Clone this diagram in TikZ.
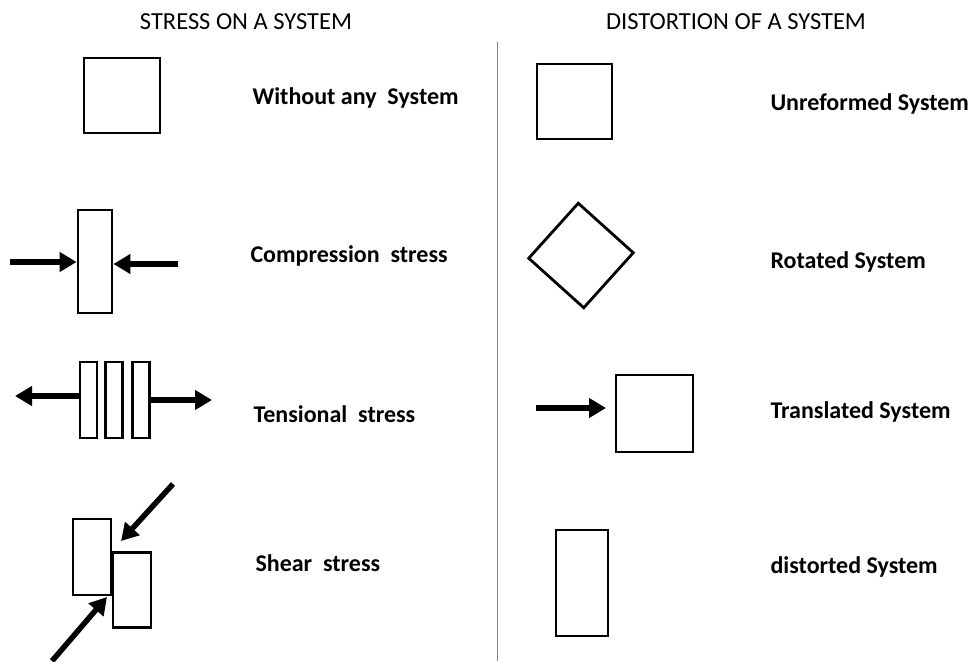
\documentclass[tikz,border=0pt]{standalone}
\usepackage{fontspec}
\setmainfont{Carlito}
\usetikzlibrary{arrows.meta}

\tikzset{
  plate/.style={draw, line width=2.8pt, inner sep=0pt, minimum width=#1},
  push/.style={line width=5.5pt, -{Triangle[length=17pt,width=19pt]}},
  heading/.style={font=\fontsize{24.5}{28}\selectfont},
  caption/.style={anchor=west, font=\fontsize{24}{28}\selectfont\bfseries}
}

\begin{document}
\begin{tikzpicture}[x=1pt,y=-1pt]
  \useasboundingbox (0,0) rectangle (974,661);

  % headings and the divider
  \node[heading] (hstress) at (246,22) {STRESS ON A SYSTEM};
  \node[heading] (hdist) at (736,22) {DISTORTION OF A SYSTEM};
  \draw[gray, line width=1pt] (497,42) -- (497,661);

  % stress on a system
  \node[plate=76pt, minimum height=75pt] (free) at (122,95.5) {};
  \node[caption] (lfree) at (249,98) {Without any~ System};

  \node[plate=34pt, minimum height=103pt] (comp) at (95,261.5) {};
  \coordinate (cl) at (10,262);
  \coordinate (cr) at (178,264);
  \draw[push] (cl) -- (comp.west |- cl);
  \draw[push] (cr) -- (comp.east |- cr);
  \node[caption] (lcomp) at (247,256) {Compression~ stress};

  \node[plate=17pt, minimum height=76pt] (ta) at (88.5,400) {};
  \node[plate=17pt, minimum height=76pt] (tb) at (114,400) {};
  \node[plate=17pt, minimum height=76pt] (tc) at (141,400) {};
  \coordinate (tl) at (15,396);
  \coordinate (tr) at (212,400);
  \draw[push] (ta.west |- tl) -- (tl);
  \draw[push] (tc.east |- tr) -- (tr);
  \node[caption] (lten) at (250,414) {Tensional~ stress};

  \node[plate=38pt, minimum height=76pt] (sa) at (92,557) {};
  \node[plate=38pt, minimum height=75pt] (sb) at (132,590) {};
  \coordinate (st) at (173,484);
  \coordinate (sttip) at (121,541);
  \coordinate (sl) at (52,661);
  \coordinate (sltip) at (107,597);
  \draw[push] (st) -- (sttip);
  \draw[push] (sl) -- (sltip);
  \node[caption] (lshear) at (252,563) {Shear~ stress};

  % distortion of a system
  \node[plate=75pt, minimum height=75pt] (unref) at (574.5,101.5) {};
  \node[caption] (lunref) at (767,104) {Unreformed System};

  \node[plate=74pt, minimum height=74pt, rotate=-42] (rot) at (581,255.5) {};
  \node[caption] (lrot) at (767,262) {Rotated System};

  \node[plate=77pt, minimum height=77pt] (trans) at (654.5,413.5) {};
  \coordinate (ts) at (536,408);
  \coordinate (ttip) at (606,408);
  \draw[push] (ts) -- (ttip);
  \node[caption] (ltrans) at (767,412) {Translated System};

  \node[plate=52pt, minimum height=106pt] (dist) at (582,583) {};
  \node[caption] (ldist) at (767,567) {distorted System};
\end{tikzpicture}
\end{document}
